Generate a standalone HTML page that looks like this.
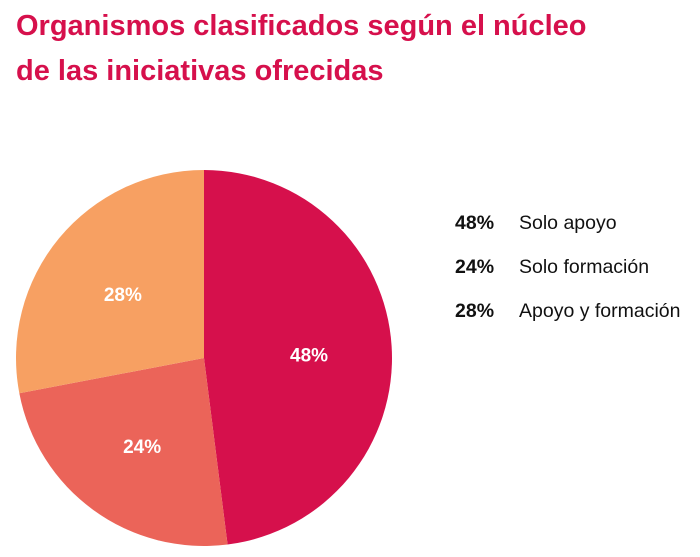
<!DOCTYPE html>
<html><head><meta charset="utf-8"><style>
body{margin:0;width:700px;height:557px;background:#fff;font-family:"Liberation Sans",sans-serif;overflow:hidden;position:relative}
.title{position:absolute;left:16px;top:4px;color:#d6104c;font-weight:bold;font-size:29px;line-height:45px}
.legend{position:absolute;left:455px;top:209px;font-size:19.5px;color:#111}
.legend div{height:44px;line-height:28px}
.legend b{display:inline-block;width:64px}
</style></head><body>
<div class="title">Organismos clasificados según el núcleo<br>de las iniciativas ofrecidas</div>
<svg id="pie" width="700" height="557" style="position:absolute;left:0;top:0"></svg>
<div class="legend">
<div><b>48%</b>Solo apoyo</div>
<div><b>24%</b>Solo formación</div>
<div><b>28%</b>Apoyo y formación</div>
</div>
<script>
const categories=["Solo apoyo","Solo formación","Apoyo y formación"];
const values=[48,24,28];
const colors=["#d6104c","#eb6459","#f7a062"];
const cx=204,cy=358,r=188;
const svg=document.getElementById('pie');
const NS="http://www.w3.org/2000/svg";
const total=values.reduce((a,b)=>a+b,0);
let a0=0;
function pt(a,rr){return [cx+rr*Math.sin(a),cy-rr*Math.cos(a)];}
values.forEach((v,i)=>{
  const a1=a0+v/total*2*Math.PI;
  const p0=pt(a0,r),p1=pt(a1,r);
  const large=(a1-a0)>Math.PI?1:0;
  const path=document.createElementNS(NS,'path');
  path.setAttribute('d',`M${cx},${cy}L${p0[0]},${p0[1]}A${r},${r} 0 ${large} 1 ${p1[0]},${p1[1]}Z`);
  path.setAttribute('fill',colors[i]);
  
  
  svg.appendChild(path);
  const mid=(a0+a1)/2, lp=pt(mid,r*0.56);
  const t=document.createElementNS(NS,'text');
  t.setAttribute('x',lp[0]);t.setAttribute('y',lp[1]+10);
  t.setAttribute('text-anchor','middle');t.setAttribute('fill','#fff');
  t.setAttribute('font-size','19');t.setAttribute('font-weight','bold');
  t.setAttribute('font-family','Liberation Sans, sans-serif');
  t.textContent=v+'%';
  
  
  svg.appendChild(t);
  a0=a1;
});
</script>
</body></html>
